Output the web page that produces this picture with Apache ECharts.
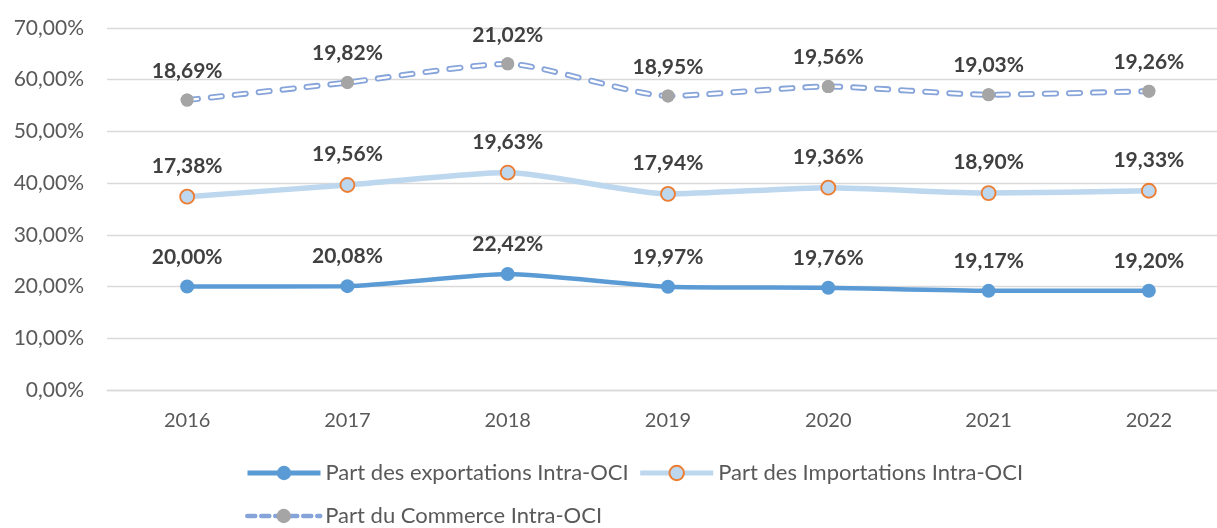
<!DOCTYPE html>
<html>
<head>
<meta charset="utf-8">
<script src="https://cdn.jsdelivr.net/npm/echarts@6/dist/echarts.min.js"></script>
<style>
  html, body { margin: 0; padding: 0; background: #fff; }
  #chart { width: 1217px; height: 528px; }
</style>
</head>
<body>
<div id="chart"></div>
<script>
// donnees (en %)
var annees = ['2016', '2017', '2018', '2019', '2020', '2021', '2022'];
var exportations = [20.00, 20.08, 22.42, 19.97, 19.76, 19.17, 19.20];
var importations = [17.38, 19.56, 19.63, 17.94, 19.36, 18.90, 19.33];
var commerce = [18.69, 19.82, 21.02, 18.95, 19.56, 19.03, 19.26];

var nomExp = 'Part des exportations Intra-OCI';
var nomImp = 'Part des Importations Intra-OCI';
var nomCom = 'Part du Commerce Intra-OCI';

// courbes empilees
var hautImp = exportations.map(function (v, i) { return v + importations[i]; });
var hautCom = hautImp.map(function (v, i) { return v + commerce[i]; });

var lisse = 0.2;
var tirets = [11, 13];

function pct(v) { return v.toFixed(2).replace('.', ',') + '%'; }

function etiquette(valeurs) {
  return {
    show: true,
    position: 'top',
    distance: 12,
    color: '#404040',
    fontFamily: 'Lato',
    fontWeight: 'bold',
    fontSize: 21,
    formatter: function (p) { return pct(valeurs[p.dataIndex]); }
  };
}

var texteLegende = { color: '#595959', fontSize: 22, fontFamily: 'Lato' };

var chart = echarts.init(document.getElementById('chart'));
chart.setOption({
  animation: false,
  textStyle: { fontFamily: 'Lato' },
  grid: { left: 107, top: 28, width: 1122, height: 362, containLabel: false, outerBoundsMode: 'none' },
  legend: [{
    data: [
      { name: nomExp, lineStyle: { width: 5 } },
      { name: nomImp, lineStyle: { width: 5 } }
    ],
    left: 245, top: 462, padding: 0,
    itemWidth: 73, itemHeight: 18, itemGap: 9,
    textStyle: texteLegende
  }, {
    data: [{ name: nomCom, lineStyle: { width: 4.5, type: [8, 6] } }],
    left: 245, top: 505, padding: 0,
    itemWidth: 73, itemHeight: 18,
    textStyle: texteLegende
  }],
  xAxis: {
    type: 'category',
    data: annees,
    boundaryGap: true,
    axisLine: { lineStyle: { color: '#D9D9D9', width: 1.3 } },
    axisTick: { show: false },
    axisLabel: { color: '#595959', fontSize: 20, margin: 21 }
  },
  yAxis: {
    type: 'value',
    min: 0, max: 70, interval: 10,
    axisLine: { show: false },
    axisTick: { show: false },
    splitLine: { lineStyle: { color: '#D9D9D9', width: 1.3 } },
    axisLabel: { color: '#595959', fontSize: 21, margin: 23, formatter: pct }
  },
  series: [{
    name: nomExp,
    type: 'line',
    data: exportations,
    smooth: lisse,
    symbol: 'circle', symbolSize: 14,
    lineStyle: { color: '#5B9BD5', width: 4.5 },
    itemStyle: { color: '#5B9BD5' },
    label: etiquette(exportations),
    z: 3
  }, {
    name: nomImp,
    type: 'line',
    data: hautImp,
    smooth: lisse,
    symbol: 'circle', symbolSize: 14,
    lineStyle: { color: '#BDD7EE', width: 5.5 },
    itemStyle: { color: '#BDD7EE', borderColor: '#ED7D31', borderWidth: 1.8 },
    label: etiquette(importations),
    z: 3
  }, {
    name: nomCom,
    type: 'line',
    data: hautCom,
    smooth: lisse,
    symbol: 'circle', symbolSize: 13,
    lineStyle: { color: '#86A4DA', width: 6, type: tirets, cap: 'round' },
    itemStyle: { color: '#A5A5A5' },
    label: etiquette(commerce),
    z: 3
  }, {
    // trait blanc interieur (ligne double)
    name: 'com-interieur',
    type: 'line',
    data: hautCom,
    smooth: lisse,
    symbol: 'none',
    silent: true,
    lineStyle: { color: '#ffffff', width: 2.4, type: tirets, cap: 'round' },
    z: 4
  }, {
    // marqueurs au-dessus
    name: 'com-points',
    type: 'line',
    data: hautCom,
    smooth: lisse,
    symbol: 'circle', symbolSize: 13,
    lineStyle: { opacity: 0 },
    itemStyle: { color: '#A5A5A5' },
    silent: true,
    z: 5
  }]
});
</script>
</body>
</html>
